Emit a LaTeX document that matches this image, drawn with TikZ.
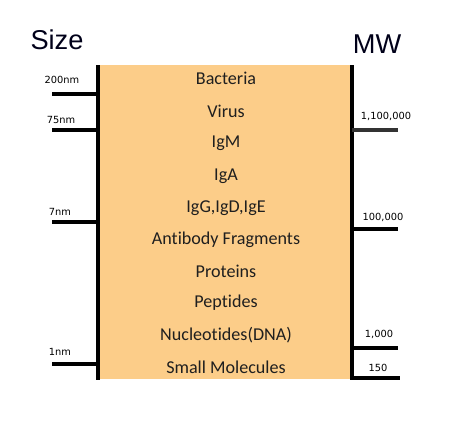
\documentclass[tikz,border=0pt]{standalone}
\usepackage{fontspec}
\setmainfont[Ligatures=NoCommon]{Carlito}
\newfontfamily\headfont{Liberation Sans}
\newfontfamily\tickfont{DejaVu Sans}
\usepackage{xcolor}
\definecolor{bandfill}{RGB}{252,205,137}

\begin{document}
\begin{tikzpicture}[x=0.02cm,y=-0.02cm,line cap=butt,
  axis/.style={line width=2pt},
  tick/.style={line width=2pt},
  cat/.style={font=\fontsize{10.3}{12}\selectfont,text=black!88},
  ticklbl/.style={font=\tickfont\fontsize{5.6}{7}\selectfont},
  head/.style={font=\headfont\fontsize{15.5}{18}\selectfont,text=black!90!blue}]
\useasboundingbox (0,0) rectangle (475,433);
% band
\fill[bandfill] (99,65) rectangle (351,379);
\draw[axis] (98,65) -- (98,380);
\draw[axis] (352,65) -- (352,380);
% titles
\node[head] (size) at (57,40) {Size};
\node[head] (mw) at (377,44) {MW};
% size ticks
\draw[tick] (52,94) -- (98,94);
\draw[tick] (52,130) -- (98,130);
\draw[tick] (52,222) -- (98,222);
\draw[tick] (52,364) -- (98,364);
\node[ticklbl] (s200) at (62,80) {200nm};
\node[ticklbl] (s75) at (61,120) {75nm};
\node[ticklbl] (s7) at (60,212) {7nm};
\node[ticklbl] (s1) at (60,352) {1nm};
% MW ticks
\draw[tick,black!80] (352,130) -- (398,130);
\draw[tick] (352,229) -- (398,229);
\draw[tick] (352,348) -- (398,348);
\draw[tick] (352,378) -- (400,378);
\node[ticklbl] (m1100k) at (386,116) {1,100,000};
\node[ticklbl] (m100k) at (383,217) {100,000};
\node[ticklbl] (m1k) at (379,334) {1,000};
\node[ticklbl] (m150) at (378,368) {150};
% categories
\node[cat] (bact) at (226,78) {Bacteria};
\node[cat] (virus) at (226,111) {Virus};
\node[cat] (igm) at (226,143) {IgM};
\node[cat] (iga) at (226,176) {IgA};
\node[cat] (iggde) at (226,208) {IgG,IgD,IgE};
\node[cat] (frag) at (226,240) {Antibody Fragments};
\node[cat] (prot) at (226,271) {Proteins};
\node[cat] (pept) at (226,303) {Peptides};
\node[cat] (nucl) at (226,335) {Nucleotides(DNA)};
\node[cat] (small) at (226,367) {Small Molecules};
\end{tikzpicture}
\end{document}
